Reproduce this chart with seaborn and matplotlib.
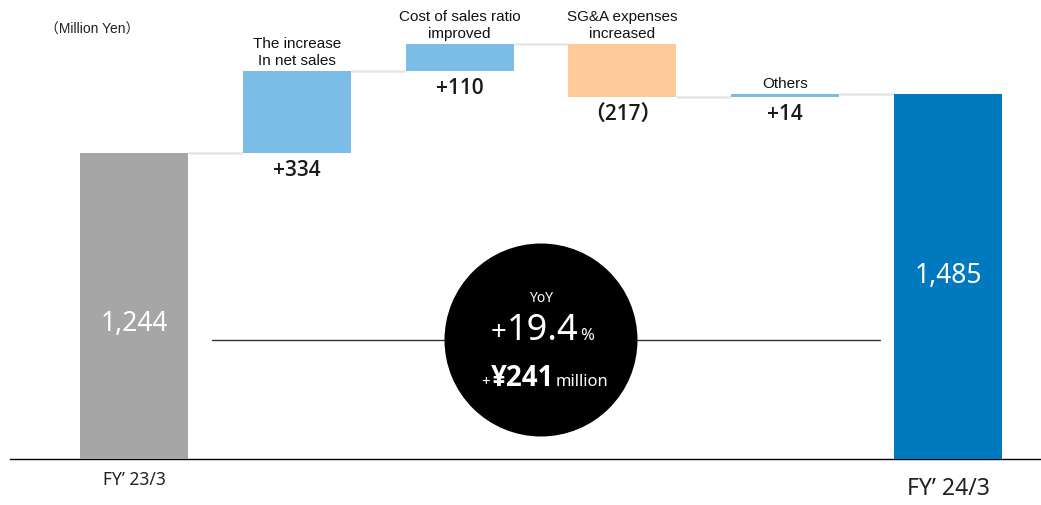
import numpy as np
import pandas as pd
import seaborn as sns
import matplotlib.pyplot as plt
from matplotlib.patches import Circle
from matplotlib.lines import Line2D
from matplotlib.transforms import IdentityTransform

# ---------------- data ----------------
categories = ["FY’ 23/3", "The increase\nIn net sales", "Cost of sales ratio\nimproved",
              "SG&A expenses\nincreased", "Others", "FY’ 24/3"]
values = [1244, 334, 110, -217, 14, 1485]
kinds = ["total", "delta", "delta", "delta", "delta", "total"]
value_labels = ["1,244", "+334", "+110", "（217）", "+14", "1,485"]
bar_colors = ["#a6a6a6", "#7bbde6", "#7bbde6", "#ffc998", "#7bbde6", "#0079be"]
unit_label = "（Million Yen）"
yoy_title = "YoY"
yoy_pct = "19.4"
yoy_amount = "241"

# ---------------- waterfall geometry from data ----------------
bottoms, heights, levels = [], [], []
cum = 0
for v, k in zip(values, kinds):
    if k == "total":
        bottoms.append(0); heights.append(v); cum = v
    else:
        if v >= 0:
            bottoms.append(cum); heights.append(v)
        else:
            bottoms.append(cum + v); heights.append(-v)
        cum += v
    levels.append(cum)

df = pd.DataFrame({"category": categories, "height": heights, "bottom": bottoms})

sns.set_theme(style="white")
plt.rcParams['font.family'] = ['Noto Sans', 'Noto Sans CJK JP', 'DejaVu Sans']

W, H = 1041, 505
fig = plt.figure(figsize=(W / 100, H / 100), dpi=100)
ax = fig.add_axes([10 / W, 46 / H, 1031 / W, 459 / H])

bw = 0.663
sns.barplot(data=df, x="category", y="height", bottom=df["bottom"].to_numpy(),
            width=bw, errorbar=None, color="#a6a6a6", ax=ax, linewidth=0, zorder=3)
for p, c in zip(ax.patches, bar_colors):
    p.set_facecolor(c)
    p.set_edgecolor(c)

ax.set_xlim(-0.762, 5.571)
ax.set_ylim(0, 1867)

# connectors
for i in range(len(values) - 1):
    ax.hlines(levels[i], i + bw / 2, i + 1 - bw / 2, color="#e6e6e6", lw=1.8, zorder=2)

# spines / ticks
for s in ["left", "top", "right"]:
    ax.spines[s].set_visible(False)
ax.spines["bottom"].set_color("black")
ax.spines["bottom"].set_linewidth(1.0)
ax.set_yticks([])
ax.set_xlabel("")
ax.set_ylabel("")
ax.set_xticks(range(len(categories)))
ax.set_xticklabels(["" for _ in categories])
ax.tick_params(axis="x", length=0)

# bottom labels for totals
for i, (cat, k) in enumerate(zip(categories, kinds)):
    if k == "total":
        fs = 12.5 if i == 0 else 16.5
        off = -21 if i == 0 else -30
        ax.annotate(cat, (i, 0), xytext=(0, off), textcoords="offset pixels",
                    ha="center", va="center", fontsize=fs, color="#222222",
                    annotation_clip=False)

# delta labels (category above, value below)
num_family = ["Open Sans", "Noto Sans CJK JP", "DejaVu Sans"]
for i, (cat, k) in enumerate(zip(categories, kinds)):
    top = bottoms[i] + heights[i]
    if k == "delta":
        ax.annotate(cat, (i, top), xytext=(0, 3), textcoords="offset pixels",
                    ha="center", va="bottom", fontsize=11, linespacing=1.3,
                    family=["Liberation Sans", "DejaVu Sans"], color="#111111")
        ax.annotate(value_labels[i], (i, bottoms[i]), xytext=(0, -7),
                    textcoords="offset pixels", ha="center", va="top",
                    fontsize=15, fontweight="semibold", family=num_family,
                    color="#1a1a1a")
    else:
        frac = 0.44 if i == 0 else 0.50
        ax.text(i, heights[i] * frac, value_labels[i], ha="center", va="center",
                fontsize=19, color="white", zorder=5)

fig.text(92 / W, 1 - 30 / H, unit_label, ha="center", va="center", fontsize=10,
         family=["Liberation Sans", "Noto Sans CJK JP"], color="#222222")

# YoY line + circle (pixel coords)
ident = IdentityTransform()
fig.add_artist(Line2D([212, 880], [H - 340, H - 340], color="#333333", lw=1.0,
                      transform=ident, zorder=6))
fig.add_artist(Circle((541, H - 340), 96.5, facecolor="black", edgecolor="none",
                      transform=ident, zorder=7))


def draw_runs(runs, cx, base_y, gap=2):
    texts = []
    for s, fs, fw, fam in runs:
        t = fig.text(0, 0, s, fontsize=fs, fontweight=fw, color="white",
                     family=fam, va="baseline", ha="left", transform=ident, zorder=8)
        texts.append(t)
    fig.canvas.draw()
    r = fig.canvas.get_renderer()
    widths = [t.get_window_extent(r).width for t in texts]
    total = sum(widths) + gap * (len(texts) - 1)
    x = cx - total / 2
    for t, w in zip(texts, widths):
        t.set_position((x, base_y))
        x += w + gap


base_family = ["Noto Sans", "Noto Sans CJK JP", "DejaVu Sans"]
draw_runs([(yoy_title, 10, "normal", base_family)], 541, H - 302)
draw_runs([("+", 20, "light", base_family), (yoy_pct, 26, "normal", base_family),
           ("%", 12, "normal", base_family)], 542, H - 340, gap=1)
draw_runs([("+", 11, "normal", base_family),
           ("¥" + yoy_amount, 20, "bold", ["Open Sans", "Noto Sans CJK JP", "DejaVu Sans"]),
           ("million", 12, "normal", base_family)], 545, H - 386, gap=1)

fig.savefig("out.png", dpi=100)
